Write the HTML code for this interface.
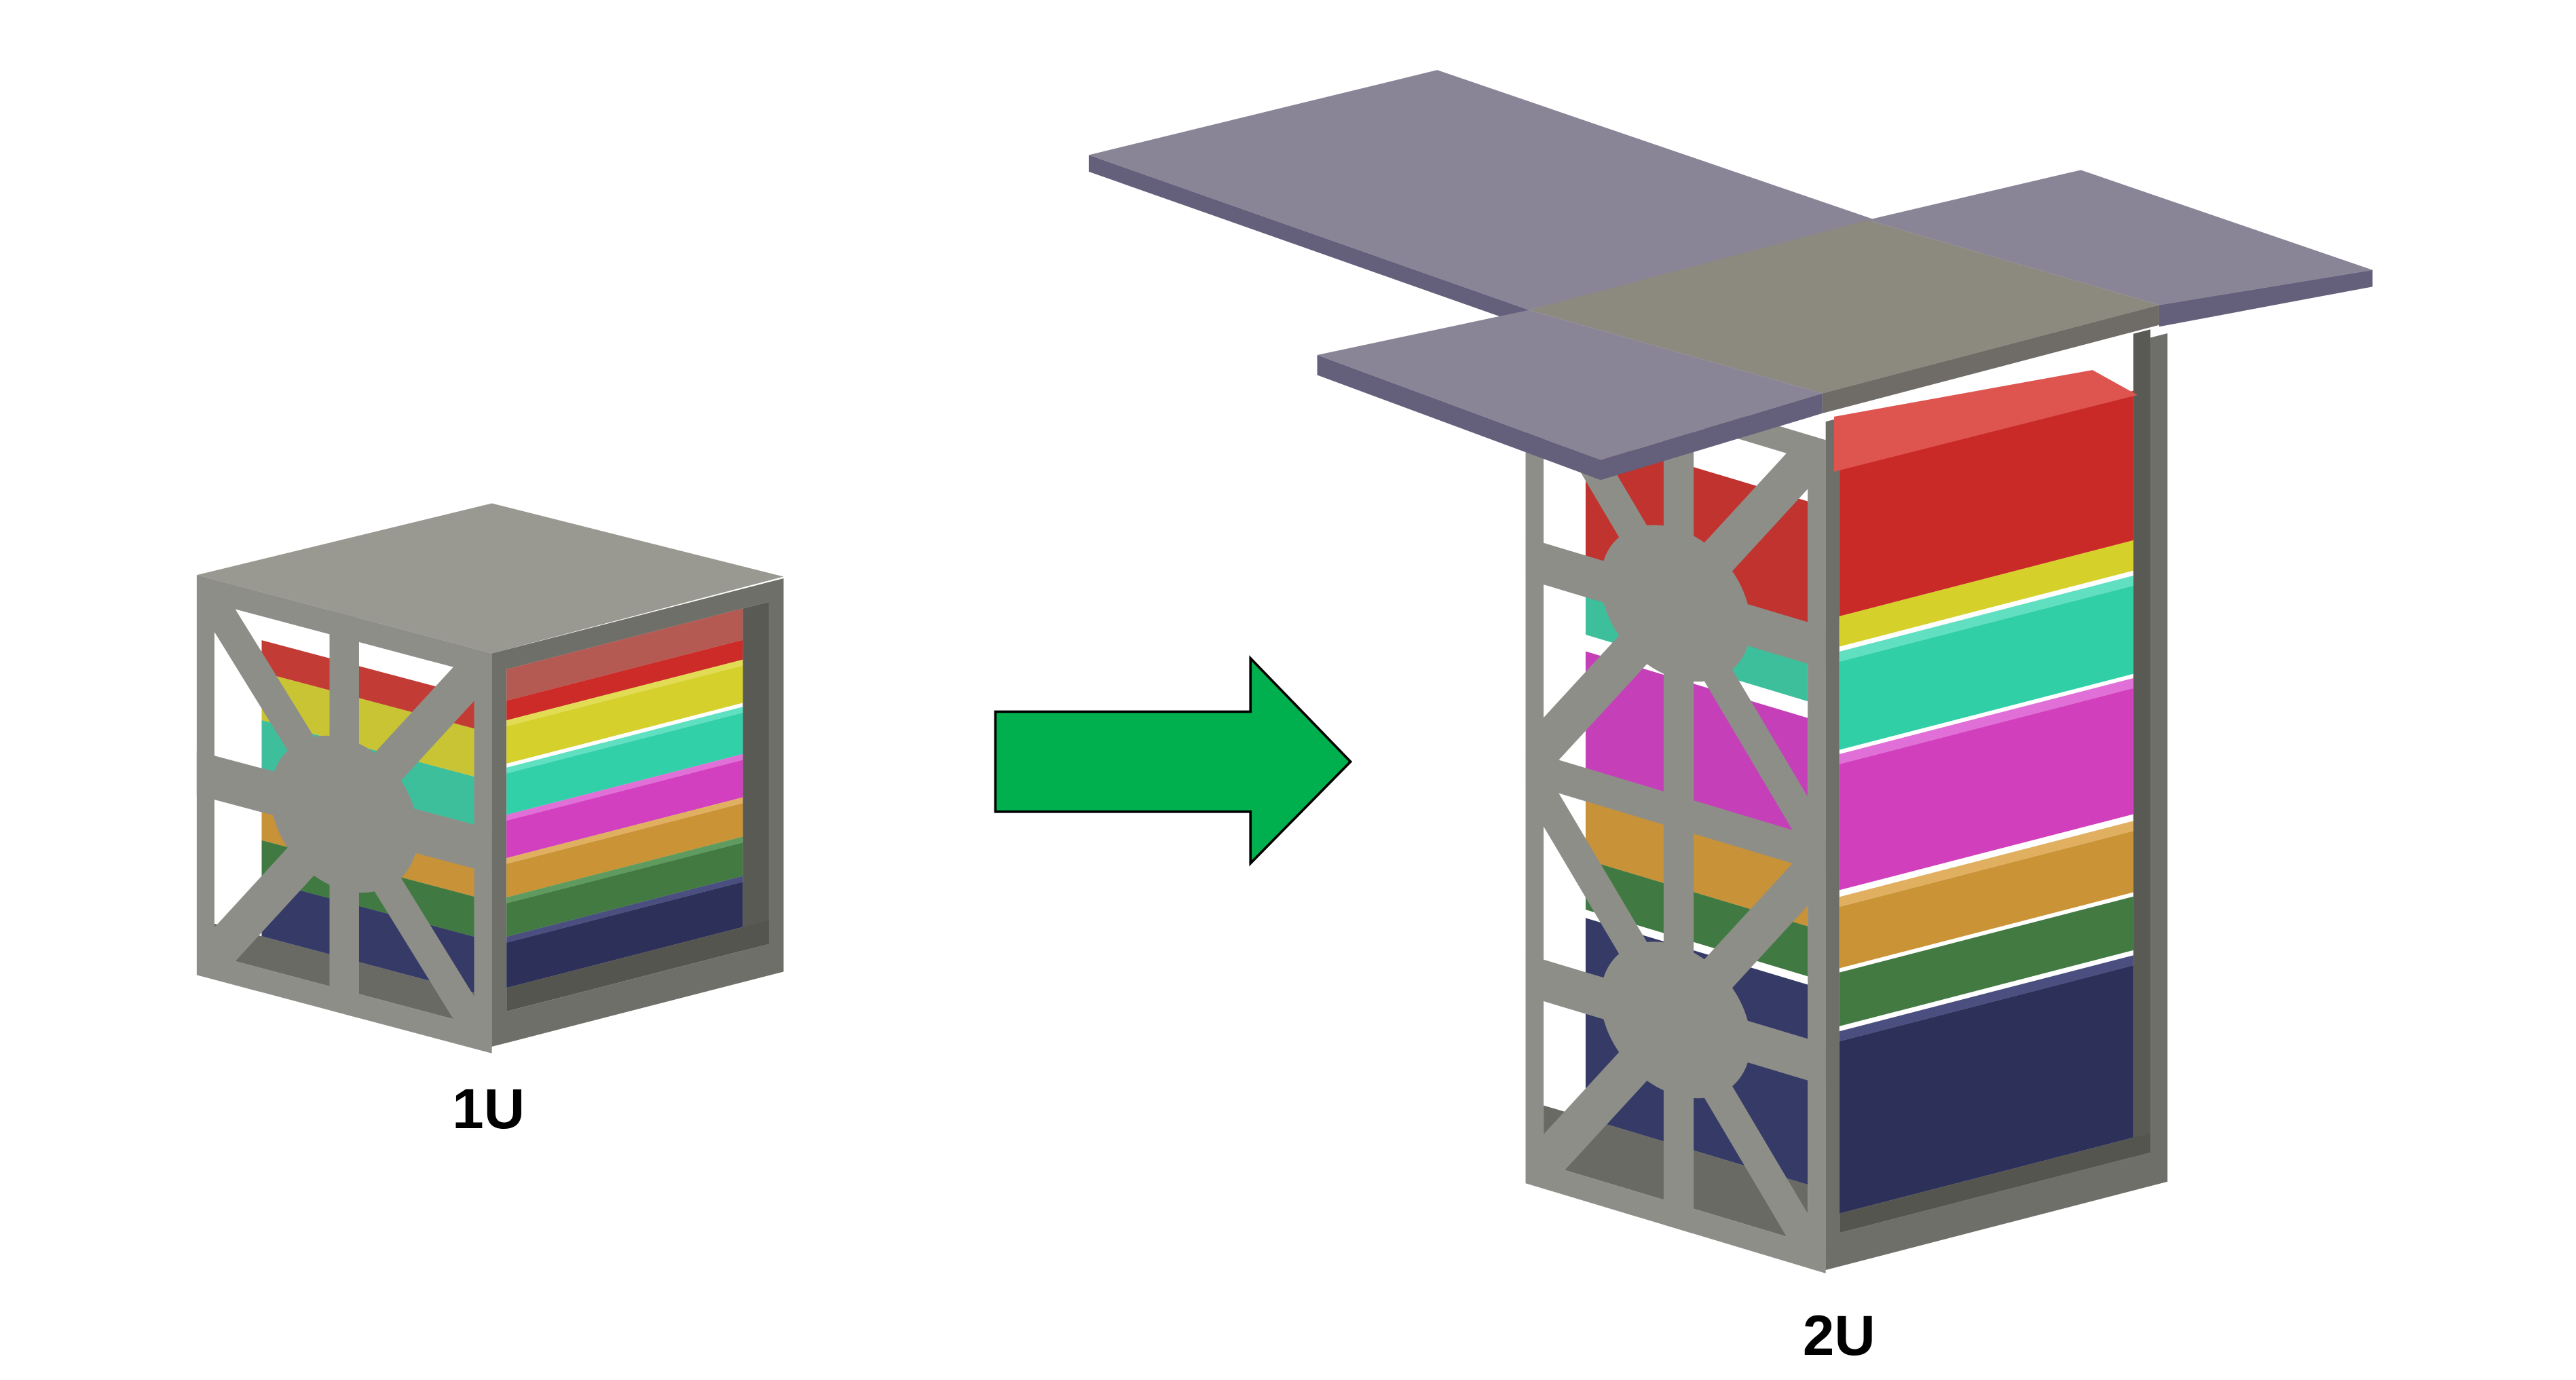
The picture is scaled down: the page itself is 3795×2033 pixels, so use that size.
<!DOCTYPE html>
<html><head><meta charset="utf-8"><style>
html,body{margin:0;padding:0;background:#fff;}
svg{display:block;}
text{font-family:"Liberation Sans",sans-serif;font-weight:bold;}
</style></head><body>
<svg width="3795" height="2033" viewBox="0 0 1545 828" preserveAspectRatio="none">
<defs>
  <clipPath id="c1l"><rect x="6" y="6" width="88" height="88"/></clipPath>
  <clipPath id="c2l"><rect x="6" y="3" width="88" height="94"/></clipPath>
  <clipPath id="c1r"><rect x="5" y="5" width="90" height="87"/></clipPath>
  <clipPath id="c2r"><rect x="4" y="-2" width="91" height="98"/></clipPath>
</defs>
<rect x="0" y="0" width="1545" height="828" fill="#ffffff"/>

<!-- ===== 1U ===== -->
<g>
  <g transform="matrix(1.77,0.47,0,2.4,118,345)">
    <rect x="0" y="0" width="100" height="100" fill="#8e8e88"/>
    <rect x="6" y="6" width="88" height="88" fill="#ffffff"/>
    <g clip-path="url(#c1l)">
      <rect x="22" y="12" width="78" height="8" fill="#c23c35"/>
      <rect x="22" y="20" width="78" height="12" fill="#c9c433"/>
      <rect x="22" y="32" width="78" height="12" fill="#3dbf9c"/>
      <rect x="22" y="44" width="78" height="8" fill="#b8409f"/>
      <rect x="22" y="52" width="78" height="10" fill="#c89238"/>
      <rect x="22" y="62" width="78" height="10" fill="#407a42"/>
      <rect x="22" y="72" width="78" height="14" fill="#353a66"/>
      <rect x="6" y="86" width="88" height="8" fill="#6a6a65"/>
    </g>
    <rect x="45" y="0" width="10" height="100" fill="#8e8e88"/>
    <rect x="0" y="44" width="100" height="11" fill="#8e8e88"/>
    <line x1="4" y1="4" x2="96" y2="96" stroke="#8e8e88" stroke-width="10"/>
    <line x1="96" y1="4" x2="4" y2="96" stroke="#8e8e88" stroke-width="10"/>
    <ellipse cx="50" cy="50" rx="25" ry="19" fill="#8e8e88"/>
  </g>
  <g transform="matrix(1.75,-0.45,0,2.36,295,392)">
    <rect x="0" y="0" width="100" height="100" fill="#6f6f69"/>
    <rect x="5" y="5" width="90" height="87" fill="#ffffff"/>
    <g clip-path="url(#c1r)">
      <rect x="86" y="5" width="9" height="87" fill="#5a5a55"/>
      <rect x="5" y="3" width="81" height="10" fill="#b45a52"/>
      <rect x="5" y="13" width="81" height="5" fill="#cc2b28"/>
      <rect x="5" y="18" width="81" height="1.5" fill="#e2dc55"/>
      <rect x="5" y="19.5" width="81" height="9.5" fill="#d5d02c"/>
      <rect x="5" y="30" width="81" height="1.5" fill="#5fe0c0"/>
      <rect x="5" y="31.5" width="81" height="10.5" fill="#32d0a8"/>
      <rect x="5" y="42" width="81" height="1.5" fill="#e070d8"/>
      <rect x="5" y="43.5" width="81" height="9.5" fill="#d23fbf"/>
      <rect x="5" y="53" width="81" height="1.5" fill="#e0b060"/>
      <rect x="5" y="54.5" width="81" height="8.5" fill="#c99336"/>
      <rect x="5" y="63" width="81" height="1.5" fill="#5f9a5f"/>
      <rect x="5" y="64.5" width="81" height="8.5" fill="#427a42"/>
      <rect x="5" y="73" width="81" height="1.5" fill="#4a4f80"/>
      <rect x="5" y="74.5" width="81" height="11.5" fill="#2d3059"/>
      <rect x="5" y="86" width="90" height="6" fill="#55554f"/>
    </g>
  </g>
  <polygon points="118,345 295,302 470,346 295,392" fill="#999992"/>
</g>
<text x="293" y="677" font-size="34" text-anchor="middle" fill="#000">1U</text>

<polygon points="597,427 750,427 750,395 810,457 750,518 750,487 597,487" fill="#00b04f" stroke="#000" stroke-width="1.5"/>

<!-- ===== 2U ===== -->
<g>
  <g transform="matrix(1.8,0.54,0,5.0,915,210)">
    <rect x="0" y="0" width="100" height="100" fill="#8e8e88"/>
    <rect x="6" y="3" width="88" height="94" fill="#ffffff"/>
    <g clip-path="url(#c2l)">
      <rect x="20" y="8" width="80" height="16" fill="#c0332e"/>
      <rect x="20" y="24" width="80" height="8" fill="#3dbf9c"/>
      <rect x="20" y="34" width="80" height="16" fill="#c540b8"/>
      <rect x="20" y="50" width="80" height="9" fill="#c89238"/>
      <rect x="20" y="59" width="80" height="6" fill="#407a42"/>
      <rect x="20" y="66" width="80" height="24" fill="#353a66"/>
      <rect x="6" y="90" width="88" height="7" fill="#6a6a65"/>
    </g>
    <g transform="translate(0,0) scale(1,0.5)">
      <rect x="46" y="0" width="10" height="100" fill="#8e8e88"/>
      <rect x="0" y="45" width="100" height="10" fill="#8e8e88"/>
      <line x1="4" y1="4" x2="96" y2="96" stroke="#8e8e88" stroke-width="10"/>
      <line x1="96" y1="4" x2="4" y2="96" stroke="#8e8e88" stroke-width="10"/>
      <ellipse cx="50" cy="50" rx="25" ry="18" fill="#8e8e88"/>
    </g>
    <g transform="translate(0,50) scale(1,0.5)">
      <rect x="46" y="0" width="10" height="100" fill="#8e8e88"/>
      <rect x="0" y="45" width="100" height="10" fill="#8e8e88"/>
      <line x1="4" y1="4" x2="96" y2="96" stroke="#8e8e88" stroke-width="10"/>
      <line x1="96" y1="4" x2="4" y2="96" stroke="#8e8e88" stroke-width="10"/>
      <ellipse cx="50" cy="50" rx="25" ry="18" fill="#8e8e88"/>
    </g>
    <rect x="0" y="48" width="100" height="4" fill="#8e8e88"/>
  </g>
  <g transform="matrix(2.05,-0.53,0,5.04,1095,258)">
    <rect x="0" y="-1" width="100" height="101" fill="#6f6f69"/>
    <rect x="4" y="-2" width="91" height="98" fill="#ffffff"/>
    <g clip-path="url(#c2r)">
      <rect x="90" y="-2" width="5" height="98" fill="#5a5a55"/>
      <rect x="2.5" y="4.8" width="87.5" height="17.8" fill="#c92a27"/>
      <rect x="2.5" y="22.6" width="87.5" height="3.6" fill="#d6d02a"/>
      <rect x="2.5" y="26.8" width="87.5" height="1.2" fill="#60e0c0"/>
      <rect x="2.5" y="28" width="87.5" height="10.5" fill="#30cfa6"/>
      <rect x="2.5" y="39" width="87.5" height="1.2" fill="#e070d8"/>
      <rect x="2.5" y="40.2" width="87.5" height="15" fill="#d23fbd"/>
      <rect x="2.5" y="56" width="87.5" height="1.2" fill="#e0b060"/>
      <rect x="2.5" y="57.2" width="87.5" height="7.3" fill="#c99336"/>
      <rect x="2.5" y="65" width="87.5" height="6.4" fill="#427a42"/>
      <rect x="2.5" y="72" width="87.5" height="1.2" fill="#4a4f80"/>
      <rect x="2.5" y="73.2" width="87.5" height="20.5" fill="#2d3059"/>
      <rect x="4" y="93.7" width="91" height="3" fill="#55554f"/>
    </g>
  </g>
  <polygon points="1100,250 1255,222 1282,237 1100,283" fill="#de5550"/>
</g>

<g>
  <polygon points="653,93 917,186 917,196 653,103" fill="#645f7b"/>
  <polygon points="653,93 862,42 1125,132 917,186" fill="#8a8497"/>
  <polygon points="1295,183 1423,162 1423,172 1295,196" fill="#645f7b"/>
  <polygon points="1120,132 1248,102 1423,162 1295,183" fill="#8a8497"/>
  <polygon points="917,186 1120,132 1295,183 1093,236" fill="#8c897f"/>
  <polygon points="1093,236 1295,183 1295,195 1093,248" fill="#6f6c68"/>
  <polygon points="790,213 960,276 960,288 790,225" fill="#645f7b"/>
  <polygon points="960,276 1093,236 1093,248 960,288" fill="#645f7b"/>
  <polygon points="790,213 917,186 1093,236 960,276" fill="#8a8497"/>
</g>
<text x="1103" y="813" font-size="34" text-anchor="middle" fill="#000">2U</text>
</svg>
</body></html>
